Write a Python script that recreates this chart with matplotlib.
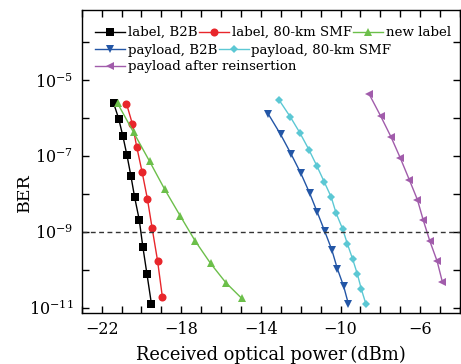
import numpy as np
import matplotlib
matplotlib.use("Agg")
import matplotlib.pyplot as plt
from matplotlib.ticker import FixedLocator, NullFormatter, FuncFormatter

# ---------------- data ----------------
label_b2b_x = [-21.40, -21.14, -20.93, -20.73, -20.53, -20.34, -20.11, -19.93, -19.72, -19.50]
label_b2b_y = [-5.60, -6.02, -6.48, -6.97, -7.52, -8.09, -8.68, -9.39, -10.12, -10.89]

label_smf_x = [-20.75, -20.45, -20.24, -19.97, -19.70, -19.46, -19.19, -18.95]
label_smf_y = [-5.62, -6.16, -6.75, -7.41, -8.13, -8.91, -9.76, -10.71]

new_label_x = [-21.20, -20.39, -19.59, -18.83, -18.05, -17.30, -16.53, -15.76, -14.97]
new_label_y = [-5.61, -6.38, -7.14, -7.88, -8.58, -9.24, -9.83, -10.34, -10.75]

payload_b2b_x = [-13.62, -13.01, -12.49, -11.99, -11.55, -11.17, -10.79, -10.44, -10.16, -9.84, -9.60]
payload_b2b_y = [-5.90, -6.43, -6.94, -7.46, -7.98, -8.48, -8.99, -9.47, -9.97, -10.44, -10.91]

payload_smf_x = [-13.09, -12.52, -12.04, -11.59, -11.19, -10.82, -10.47, -10.22, -9.89, -9.66,
                 -9.39, -9.15, -8.95, -8.72]
payload_smf_y = [-5.52, -5.97, -6.39, -6.83, -7.26, -7.68, -8.08, -8.51, -8.93, -9.31,
                 -9.72, -10.12, -10.52, -10.91]

payload_re_x = [-8.57, -7.99, -7.47, -7.00, -6.55, -6.14, -5.84, -5.51, -5.15, -4.89]
payload_re_y = [-5.36, -5.94, -6.49, -7.05, -7.62, -8.15, -8.70, -9.25, -9.77, -10.31]

x_ticklabels = [-22, -18, -14, -10, -6]
y_ticklabels = [-11, -9, -7, -5]
threshold = 1e-9

# ---------------- style ----------------
plt.rcParams['font.family'] = ['DejaVu Serif']
plt.rcParams['mathtext.fontset'] = 'dejavuserif'

fig = plt.figure(figsize=(4.61, 3.64), dpi=100)
ax = fig.add_axes([0.1772, 0.1401, 0.8206, 0.8324])

series = [
    (label_b2b_x, label_b2b_y, 'label, B2B', 'black', 's', 5.2),
    (label_smf_x, label_smf_y, 'label, 80-km SMF', '#e8262b', 'o', 5.8),
    (new_label_x, new_label_y, 'new label', '#6cbf4a', '^', 6.3),
    (payload_b2b_x, payload_b2b_y, 'payload, B2B', '#2356a6', 'v', 6.3),
    (payload_smf_x, payload_smf_y, 'payload, 80-km SMF', '#5cc8d4', 'D', 4.2),
    (payload_re_x, payload_re_y, 'payload after reinsertion', '#a15cab', '<', 6.3),
]
handles = []
for xs, ys, lab, col, mk, ms in series:
    h, = ax.plot(xs, 10.0 ** np.array(ys), color=col, marker=mk, markersize=ms,
                 linewidth=1.0, label=lab, markeredgewidth=0)
    handles.append(h)

ax.axhline(threshold, color='#333333', linestyle=(0, (3.5, 2.5)), linewidth=1.0)

ax.set_yscale('log')
ax.set_xlim(-23, -4)
ax.set_ylim(10 ** -11.14, 10 ** -3.15)

ax.xaxis.set_major_locator(FixedLocator(np.arange(-23, -3, 1)))
ax.xaxis.set_major_formatter(FuncFormatter(
    lambda v, p: ('\u2212%d' % abs(round(v))) if round(v) in x_ticklabels else ''))
ax.yaxis.set_major_locator(FixedLocator([10.0 ** e for e in range(-11, -3)]))
ax.yaxis.set_major_formatter(FuncFormatter(
    lambda v, p: (r'$10^{%d}$' % round(np.log10(v))) if round(np.log10(v)) in y_ticklabels else ''))
ax.yaxis.set_minor_locator(FixedLocator([]))
ax.yaxis.set_minor_formatter(NullFormatter())

ax.tick_params(which='both', direction='in', top=True, right=True, length=5, width=1.0,
               labelsize=11.5, pad=6)
for s in ax.spines.values():
    s.set_linewidth(1.0)

ax.set_xlabel('Received optical power\u2009(dBm)', fontsize=12.9, labelpad=5)
ax.set_ylabel('BER', fontsize=12.5)
ax.yaxis.set_label_coords(-0.129, 0.396)

# flow-layout legend: three rows, each packed independently
rows = [([0, 1, 2], 0.925), ([3, 4], 0.867), ([5], 0.812)]
for idx, yy in rows:
    leg = ax.legend([handles[i] for i in idx], [series[i][2] for i in idx],
                    loc='center left', bbox_to_anchor=(0.036, yy), ncol=len(idx),
                    frameon=False, fontsize=9.6, handlelength=2.25, handletextpad=0.2,
                    columnspacing=0.1, borderpad=0, borderaxespad=0)
    if yy != rows[-1][1]:
        ax.add_artist(leg)

fig.savefig('out.png', dpi=100)
